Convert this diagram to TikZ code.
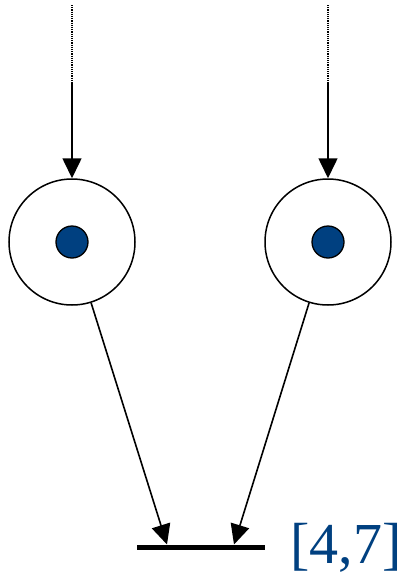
\documentclass[tikz,border=0pt]{standalone}
\usepackage{fontspec}
\setmainfont{Liberation Serif}
\usetikzlibrary{positioning,arrows.meta,calc}
\definecolor{tokblue}{HTML}{004080}

\begin{document}
\begin{tikzpicture}[
  x=1pt, y=-1pt,
  place/.style={circle, draw, line width=1.5pt, minimum size=126pt, inner sep=0pt},
  token/.style={circle, draw, line width=1.3pt, fill=tokblue, minimum size=32pt, inner sep=0pt},
  trans/.style={rectangle, fill=black, minimum width=128pt, minimum height=5pt, inner sep=0pt},
  arc/.style={line width=1.6pt, -{Triangle[length=20pt,width=19pt]}},
  tail/.style={line width=1.2pt, dash pattern=on 1.2pt off 1pt},
  lbl/.style={text=tokblue, font=\fontsize{58}{60}\selectfont, inner sep=0pt},
]
\useasboundingbox (0,0) rectangle (411,573);
% ---------- places ----------
\node[place] (p1) at (72,242) {};
\node[place] (p2) at (328,242) {};
\node[token] (k1) at (p1.center) {};
\node[token] (k2) at (p2.center) {};
% ---------- transition ----------
\node[trans] (t) at (201,547) {};
\node[lbl, anchor=base west] (tl) at (290,563) {[4,7]};
% ---------- incoming tails ----------
\coordinate (s1) at (72,5);  \coordinate (e1) at (72,82);
\coordinate (s2) at (328,5); \coordinate (e2) at (328,82);
\draw[tail] (s1) -- (e1);
\draw[tail] (s2) -- (e2);
\draw[arc] (e1) -- (p1);
\draw[arc] (e2) -- (p2);
% ---------- arcs into transition ----------
\coordinate (t1) at (167,544.5);
\coordinate (t2) at (234,544.5);
\draw[arc] (p1) -- (t1);
\draw[arc] (p2) -- (t2);
\end{tikzpicture}
\end{document}
